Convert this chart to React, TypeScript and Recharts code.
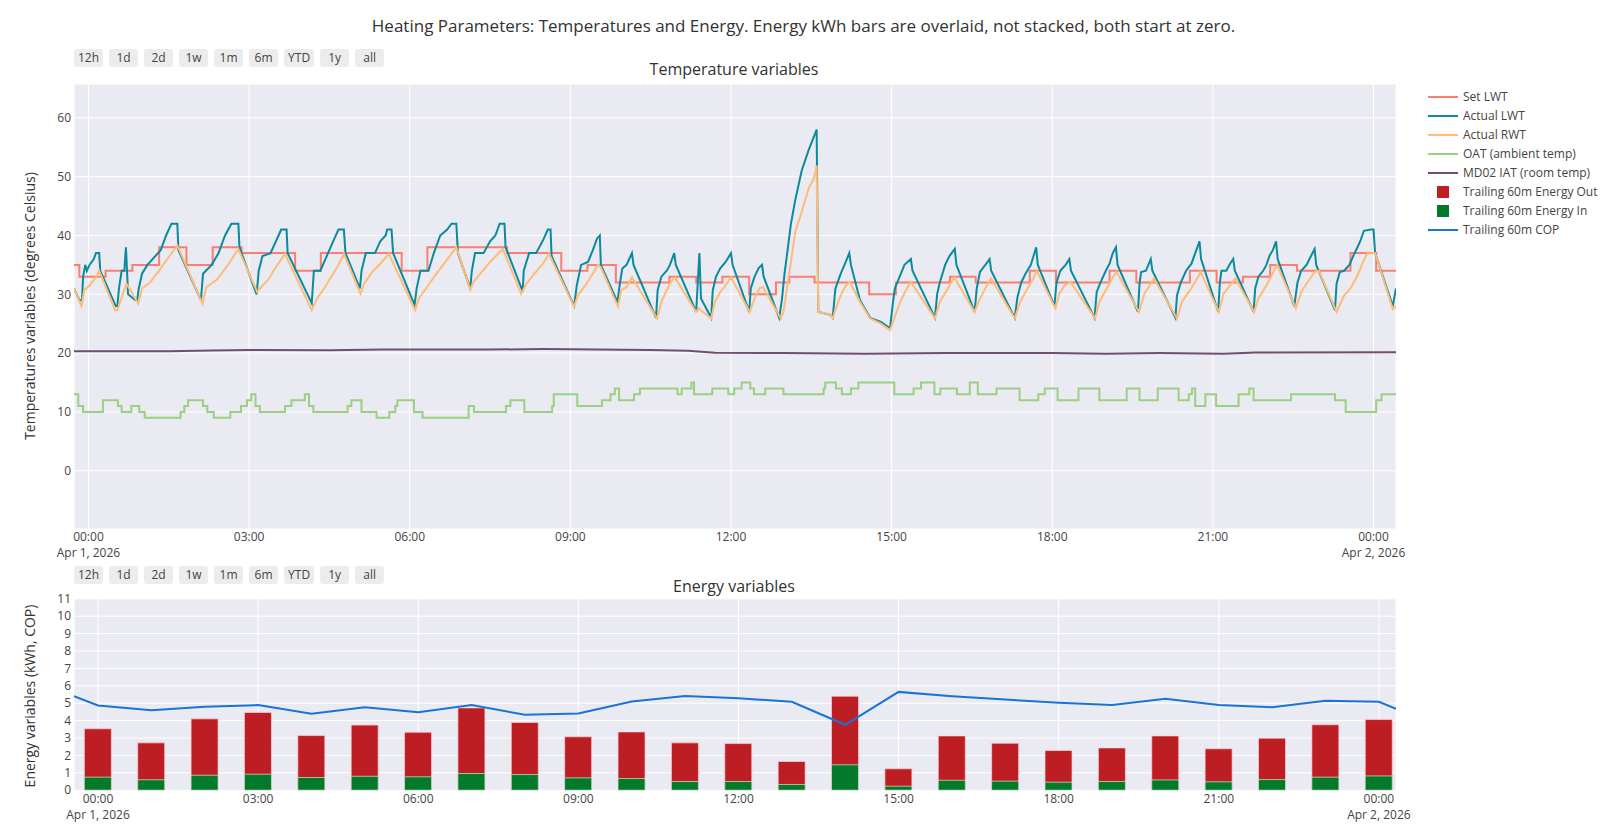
import React from 'react'
import {
    LineChart,
    ComposedChart,
    Line,
    Bar,
    XAxis,
    YAxis,
    CartesianGrid,
} from 'recharts'

type Pt = [number, number]

// time = hours since Apr 1, 2026 00:00
const setLwt: Pt[] = [
    [-0.27, 35], [-0.17, 33], [0.32, 34], [0.82, 35], [1.32, 38], [1.83, 35], [2.32, 38], [2.86, 37],
    [3.86, 34], [4.34, 37], [5.85, 34], [6.33, 38], [7.82, 37], [8.83, 34], [9.32, 35], [9.85, 32],
    [10.85, 33], [11.35, 32], [11.84, 33], [12.34, 30], [12.84, 32], [13.09, 33], [13.56, 32], [14.58, 30],
    [15.08, 32], [16.09, 33], [16.57, 32], [17.58, 34], [18.07, 32], [19.07, 34], [19.57, 32], [20.57, 34],
    [21.07, 32], [21.56, 33], [22.07, 35], [22.57, 34], [23.57, 37], [24.05, 34], [24.42, 34],
]

const actualLwt: Pt[] = [
    [-0.27, 31], [-0.17, 29], [-0.12, 29], [-0.1, 33], [-0.06, 35], [-0.03, 34], [0.02, 35], [0.1, 36],
    [0.14, 37], [0.2, 37], [0.22, 34], [0.51, 28], [0.54, 28], [0.57, 31], [0.62, 34], [0.67, 34],
    [0.7, 38], [0.74, 30], [0.88, 29], [0.91, 29], [0.94, 31], [1.0, 33.5], [1.1, 35], [1.35, 37.5],
    [1.45, 40], [1.55, 42], [1.66, 42], [1.68, 37.5], [2.1, 29], [2.14, 33.5], [2.3, 35], [2.43, 37],
    [2.55, 40], [2.67, 42], [2.8, 42], [2.82, 38], [3.14, 30], [3.18, 34], [3.25, 36.5], [3.4, 37],
    [3.55, 40], [3.6, 41], [3.7, 41], [3.72, 37], [4.17, 28.5], [4.21, 34], [4.33, 34], [4.45, 36.5],
    [4.57, 39], [4.67, 41], [4.77, 41], [4.8, 37], [5.07, 31], [5.1, 34], [5.18, 37], [5.35, 37],
    [5.45, 39], [5.55, 40], [5.58, 41], [5.66, 41], [5.69, 37], [6.09, 28.2], [6.13, 31], [6.2, 34],
    [6.35, 34], [6.45, 37], [6.57, 40], [6.7, 41], [6.78, 42], [6.87, 42], [6.9, 37], [7.13, 31],
    [7.16, 34], [7.22, 37], [7.38, 37], [7.5, 39], [7.6, 40], [7.68, 42], [7.77, 42], [7.79, 38],
    [8.11, 30.5], [8.13, 34], [8.23, 37], [8.36, 37], [8.48, 39], [8.58, 41], [8.63, 41], [8.65, 36.5],
    [9.07, 28], [9.12, 31.5], [9.2, 35], [9.33, 35.5], [9.42, 37.5], [9.5, 39.5], [9.55, 40], [9.57, 35],
    [9.88, 28.7], [9.92, 31.5], [9.97, 34.4], [10.05, 35], [10.1, 36], [10.15, 37], [10.18, 35], [10.6, 26],
    [10.63, 30.7], [10.7, 33], [10.8, 34], [10.86, 35], [10.94, 37], [10.97, 35], [11.35, 27], [11.41, 37],
    [11.44, 29.3], [11.63, 26], [11.66, 30.7], [11.72, 33], [11.8, 34.4], [11.9, 35.5], [12.0, 37], [12.03, 35],
    [12.34, 27], [12.37, 31], [12.44, 33], [12.52, 34.5], [12.58, 35], [12.61, 33], [12.9, 26], [12.95, 29],
    [13.0, 33.5], [13.05, 37], [13.12, 42], [13.2, 46], [13.32, 51], [13.45, 54.5], [13.6, 58], [13.63, 27],
    [13.86, 26.5], [13.9, 26], [13.95, 31], [14.05, 33.5], [14.12, 35], [14.21, 37], [14.24, 35], [14.41, 29],
    [14.6, 26], [14.8, 25.3], [14.97, 24.2], [15.03, 29], [15.06, 31], [15.15, 33], [15.24, 35], [15.36, 36],
    [15.39, 34], [15.81, 26], [15.85, 30], [15.9, 32], [16.0, 35], [16.08, 36.5], [16.18, 37.7], [16.21, 35],
    [16.55, 27], [16.59, 31], [16.65, 33.8], [16.75, 35], [16.83, 36], [16.86, 34], [17.3, 26], [17.35, 29.5],
    [17.42, 32], [17.5, 33.5], [17.6, 35], [17.7, 38], [17.73, 35], [18.04, 28], [18.08, 32], [18.15, 34],
    [18.25, 35], [18.32, 36], [18.35, 34], [18.79, 26], [18.83, 30.4], [18.9, 32], [19.0, 34], [19.07, 35.2],
    [19.13, 37], [19.19, 38], [19.22, 35], [19.6, 27], [19.63, 31.8], [19.66, 33.8], [19.75, 34], [19.84, 36],
    [19.87, 34], [20.3, 26], [20.33, 29.8], [20.4, 32], [20.5, 34], [20.6, 35.2], [20.67, 37], [20.75, 39],
    [20.78, 36], [21.1, 27], [21.13, 32], [21.16, 34], [21.25, 34], [21.32, 35.2], [21.38, 36], [21.41, 34],
    [21.76, 27], [21.79, 31], [21.85, 33], [21.94, 34], [22.0, 35], [22.06, 36.6], [22.12, 37.5], [22.18, 39],
    [22.21, 36], [22.52, 28], [22.58, 32], [22.65, 34], [22.75, 35], [22.82, 36.3], [22.9, 37.7], [22.93, 35],
    [23.28, 27.3], [23.31, 31.8], [23.37, 33.8], [23.45, 34], [23.55, 35], [23.62, 36.5], [23.7, 38], [23.76, 39.2],
    [23.82, 40.8], [23.95, 41], [24.0, 41], [24.03, 37], [24.36, 28], [24.42, 31],
]

const actualRwt: Pt[] = [
    [-0.27, 31], [-0.13, 28], [-0.08, 30.7], [0.02, 31.5], [0.15, 33], [0.2, 34], [0.5, 27.3], [0.54, 27.3],
    [0.71, 31.8], [0.93, 28.4], [1.0, 31], [1.15, 32], [1.35, 34.4], [1.52, 36.6], [1.66, 38.3], [2.13, 28.4],
    [2.2, 31.2], [2.4, 32.5], [2.6, 34.9], [2.8, 37.7], [3.15, 30.4], [3.25, 31.5], [3.35, 32.4], [3.5, 34.6],
    [3.67, 36.9], [4.17, 27.3], [4.27, 29.3], [4.4, 31], [4.55, 33.2], [4.68, 35.2], [4.77, 36.9], [5.08, 30.1],
    [5.15, 31.8], [5.3, 33.8], [5.45, 35.2], [5.61, 36.9], [6.1, 27.3], [6.17, 29.3], [6.32, 31.2], [6.5, 33.5],
    [6.69, 35.8], [6.87, 38], [7.13, 30.8], [7.19, 32.1], [7.32, 33.5], [7.5, 35.5], [7.74, 37.7], [8.08, 30.1],
    [8.18, 31.8], [8.33, 33.5], [8.49, 35.2], [8.6, 36.9], [9.07, 27.9], [9.14, 29.8], [9.3, 31.8], [9.42, 33.5],
    [9.52, 35], [9.57, 34.6], [9.89, 27.9], [9.95, 30.7], [10.05, 31.2], [10.15, 32.9], [10.62, 25.9], [10.7, 28.7],
    [10.8, 30.7], [10.88, 32.1], [10.95, 32.9], [11.35, 27], [11.4, 27.6], [11.63, 25.9], [11.7, 28.7], [11.8, 30.4],
    [11.9, 31.5], [12.0, 32.9], [12.35, 27], [12.45, 29.5], [12.53, 31], [12.6, 31.2], [12.93, 25.9], [12.98, 27],
    [13.1, 34.3], [13.2, 40.6], [13.32, 44], [13.45, 48], [13.55, 49.7], [13.6, 51.9], [13.63, 27], [13.86, 26.5],
    [13.9, 25.9], [14.0, 28.7], [14.08, 30.4], [14.15, 31.5], [14.22, 32.1], [14.41, 28.7], [14.6, 25.9], [14.8, 25],
    [14.97, 23.9], [15.06, 26.2], [15.16, 28.7], [15.25, 30.4], [15.36, 32.1], [15.81, 25.9], [15.9, 28.7], [16.03, 30.7],
    [16.17, 32.9], [16.55, 27], [16.62, 28.7], [16.75, 31], [16.86, 32.7], [17.3, 25.9], [17.4, 28.7], [17.52, 30.7],
    [17.65, 32.7], [17.71, 34], [18.06, 27.6], [18.13, 30.1], [18.23, 31.5], [18.34, 32.1], [18.8, 25.9], [18.88, 28.7],
    [19.0, 30.7], [19.12, 32.7], [19.2, 33.8], [19.62, 27], [19.72, 30.1], [19.8, 31.2], [19.9, 32.7], [20.33, 25.9],
    [20.42, 28.7], [20.55, 30.4], [20.67, 32.1], [20.77, 33.8], [21.11, 27], [21.2, 30.1], [21.32, 31.5], [21.42, 32.7],
    [21.77, 27], [21.85, 29.3], [22.0, 31.5], [22.13, 33.8], [22.2, 35], [22.55, 27.6], [22.65, 30.4], [22.77, 32.1],
    [22.9, 33.8], [22.98, 34], [23.31, 27], [23.45, 29.8], [23.57, 31], [23.7, 33.2], [23.82, 35.8], [23.88, 36.9],
    [24.0, 37], [24.03, 37], [24.36, 27.5], [24.42, 28],
]

const oat: Pt[] = [
    [-0.27, 13], [-0.19, 11], [-0.1, 10], [0.27, 12], [0.55, 11], [0.62, 10], [0.8, 11], [0.95, 10],
    [1.05, 9], [1.72, 10], [1.79, 11], [1.86, 12], [2.14, 11], [2.22, 10], [2.34, 9], [2.65, 10],
    [2.85, 11], [2.96, 12], [3.04, 13], [3.12, 11], [3.2, 10], [3.67, 11], [3.79, 12], [4.04, 13],
    [4.12, 11], [4.2, 10], [4.84, 11], [4.91, 12], [5.1, 10], [5.38, 9], [5.62, 10], [5.73, 11],
    [5.77, 12], [6.08, 10], [6.24, 9], [7.1, 11], [7.2, 10], [7.8, 11], [7.88, 12], [8.14, 10],
    [8.66, 11], [8.69, 13], [9.13, 11], [9.59, 12], [9.75, 13], [9.83, 14], [9.91, 12], [10.19, 13],
    [10.3, 14], [11.0, 13], [11.08, 14], [11.26, 15], [11.31, 13], [11.65, 14], [11.95, 13], [12.06, 14],
    [12.2, 15], [12.36, 14], [12.43, 13], [12.64, 14], [12.98, 13], [13.73, 14], [13.76, 15], [13.96, 14],
    [14.07, 13], [14.24, 14], [14.38, 15], [15.05, 13], [15.41, 14], [15.55, 15], [15.8, 13], [15.91, 14],
    [16.22, 13], [16.46, 15], [16.61, 13], [16.96, 14], [17.39, 12], [17.74, 13], [17.86, 14], [18.1, 12],
    [18.49, 14], [18.88, 12], [19.39, 14], [19.63, 12], [19.97, 14], [20.36, 12], [20.55, 13], [20.61, 14],
    [20.67, 11], [20.86, 13], [21.06, 11], [21.48, 13], [21.68, 14], [21.76, 12], [22.46, 13], [23.28, 12],
    [23.48, 10], [24.05, 12], [24.15, 13], [24.42, 13],
]

const iat: Pt[] = [
    [-0.27, 20.3], [1.5, 20.3], [2.3, 20.45], [3.0, 20.55], [4.5, 20.5], [5.5, 20.6], [7.5, 20.6],
    [8.5, 20.7], [9.5, 20.6], [10.5, 20.55], [11.2, 20.4], [11.7, 20.05], [13, 20.0], [14.5, 19.9],
    [16, 20.0], [18, 20.0], [19, 19.9], [20, 20.0], [21.2, 19.9], [21.8, 20.1], [24.42, 20.15],
]

const energyHours = [0, 1, 2, 3, 4, 5, 6, 7, 8, 9, 10, 11, 12, 13, 14, 15, 16, 17, 18, 19, 20, 21, 22, 23, 24]
const energyOut = [3.53, 2.72, 4.1, 4.47, 3.14, 3.74, 3.33, 4.73, 3.89, 3.07, 3.35, 2.72, 2.68, 1.65, 5.4, 1.23, 3.12, 2.7, 2.28, 2.43, 3.12, 2.38, 2.99, 3.76, 4.06]
const energyIn = [0.75, 0.6, 0.86, 0.92, 0.73, 0.8, 0.77, 0.96, 0.9, 0.71, 0.67, 0.5, 0.5, 0.33, 1.46, 0.23, 0.57, 0.52, 0.46, 0.5, 0.59, 0.48, 0.61, 0.75, 0.82]
const cop: Pt[] = [
    [-0.45, 5.4], [0, 4.87], [1, 4.6], [2, 4.8], [3, 4.89], [4, 4.39], [5, 4.77], [6, 4.48], [7, 4.9],
    [8, 4.33], [9, 4.41], [10, 5.1], [11, 5.42], [12, 5.29], [13, 5.08], [14, 3.76], [15, 5.65], [16, 5.4],
    [17, 5.21], [18, 5.02], [19, 4.89], [20, 5.25], [21, 4.89], [22, 4.77], [23, 5.14], [24, 5.08], [24.32, 4.68],
]

const timeTicks = [0, 3, 6, 9, 12, 15, 18, 21, 24]
const timeLabels = ['00:00', '03:00', '06:00', '09:00', '12:00', '15:00', '18:00', '21:00', '00:00']
const dayLabels = ['Apr 1, 2026', '', '', '', '', '', '', '', 'Apr 2, 2026']
const tempTicks = [0, 10, 20, 30, 40, 50, 60]
const energyTicks = [0, 1, 2, 3, 4, 5, 6, 7, 8, 9, 10, 11]
const rangeButtons = ['12h', '1d', '2d', '1w', '1m', '6m', 'YTD', '1y', 'all']

const TEXT = 'rgb(50,50,50)'
const TICK = '#444'
const PLOT_BG = '#EAEAF2'

const TEMP_SERIES = [
    { key: 'setLwt', name: 'Set LWT', color: '#fa7f72', type: 'stepAfter', pts: setLwt },
    { key: 'lwt', name: 'Actual LWT', color: '#0a8a9e', type: 'linear', pts: actualLwt },
    { key: 'rwt', name: 'Actual RWT', color: '#ffbb78', type: 'linear', pts: actualRwt },
    { key: 'oat', name: 'OAT (ambient temp)', color: '#9ccf82', type: 'stepAfter', pts: oat },
    { key: 'iat', name: 'MD02 IAT (room temp)', color: '#6f4e6f', type: 'linear', pts: iat },
]

const LEGEND = [
    ...TEMP_SERIES.map((s) => ({ name: s.name, color: s.color, square: false })),
    { name: 'Trailing 60m Energy Out', color: '#bd1e24', square: true },
    { name: 'Trailing 60m Energy In', color: '#037a2b', square: true },
    { name: 'Trailing 60m COP', color: '#1874d8', square: false },
]

function mergeRows(series: Record<string, Pt[]>) {
    const rows = new Map<number, any>()
    for (const [key, pts] of Object.entries(series)) {
        for (const [t, v] of pts) {
            const row = rows.get(t) ?? { t }
            row[key] = v
            rows.set(t, row)
        }
    }
    return [...rows.values()].sort((a, b) => a.t - b.t)
}

const tempRows = mergeRows(Object.fromEntries(TEMP_SERIES.map((s) => [s.key, s.pts])))
const energyRows = mergeRows({
    hour: energyHours.map((h) => [h, h] as Pt),
    out: energyHours.map((h, i) => [h, energyOut[i]] as Pt),
    in: energyHours.map((h, i) => [h, energyIn[i]] as Pt),
    cop,
})

function TimeTick({ x, y, payload }: any) {
    const i = timeTicks.indexOf(payload.value)
    return (
        <text x={x} y={y} textAnchor="middle" fill={TICK} fontSize={12}>
            <tspan x={x} dy="0.71em">{timeLabels[i]}</tspan>
            {dayLabels[i] ? <tspan x={x} dy={16}>{dayLabels[i]}</tspan> : null}
        </text>
    )
}

function RangeButtons({ top }: { top: number }) {
    return (
        <div style={{ position: 'absolute', left: 74, top, display: 'flex', gap: 6 }}>
            {rangeButtons.map((b) => (
                <div key={b} style={{ minWidth: 29, height: 18, padding: '0 4px', boxSizing: 'border-box', background: '#ececec', borderRadius: 3, fontSize: 12, lineHeight: '18px', textAlign: 'center', color: TICK }}>
                    {b}
                </div>
            ))}
        </div>
    )
}

function AxisTitle({ text, cy }: { text: string; cy: number }) {
    return (
        <div style={{ position: 'absolute', left: 29, top: cy, transform: 'translate(-50%, -50%) rotate(-90deg)', whiteSpace: 'nowrap', fontSize: 14, color: TEXT }}>
            {text}
        </div>
    )
}

function LegendBox() {
    return (
        <div style={{ position: 'absolute', left: 1428, top: 87 }}>
            {LEGEND.map((l) => (
                <div key={l.name} style={{ display: 'flex', alignItems: 'center', height: 19 }}>
                    <div style={{ width: 30, display: 'flex', justifyContent: 'center' }}>
                        {l.square
                            ? <div style={{ width: 12, height: 12, background: l.color }} />
                            : <div style={{ width: 30, height: 2, background: l.color }} />}
                    </div>
                    <span style={{ marginLeft: 5, fontSize: 12, color: TICK, whiteSpace: 'nowrap' }}>{l.name}</span>
                </div>
            ))}
        </div>
    )
}

export default function App() {
    return (
        <div style={{ position: 'absolute', left: 0, top: 0, width: 1607, height: 840, background: '#fff', fontFamily: '"Open Sans", sans-serif', overflow: 'hidden' }}>
            <div style={{ position: 'absolute', left: 0, top: 15, width: 1607, textAlign: 'center', fontSize: 17, lineHeight: '21px', color: TEXT }}>
                Heating Parameters: Temperatures and Energy. Energy kWh bars are overlaid, not stacked, both start at zero.
            </div>

            <RangeButtons top={49} />
            <div style={{ position: 'absolute', left: 434, width: 600, top: 59, textAlign: 'center', fontSize: 16, lineHeight: '21px', color: TEXT }}>
                Temperature variables
            </div>
            <AxisTitle text="Temperatures variables (degrees Celsius)" cy={306} />

            <div style={{ position: 'absolute', left: 0, top: 0 }}>
                <LineChart width={1607} height={570} data={tempRows} margin={{ top: 84, right: 211, bottom: 1, left: 34 }}>
                    <CartesianGrid fill={PLOT_BG} fillOpacity={1} stroke="#fff" strokeWidth={1} />
                    <XAxis type="number" dataKey="t" domain={[-0.27, 24.42]} allowDataOverflow ticks={timeTicks} interval={0}
                        tick={<TimeTick />} tickLine={false} axisLine={false} tickSize={0} tickMargin={3} height={40} />
                    <YAxis type="number" domain={[-9.9, 65.75]} allowDataOverflow ticks={tempTicks} interval={0}
                        tick={{ fontSize: 12, fill: TICK }} tickLine={false} axisLine={false} tickSize={0} tickMargin={3} width={40} />
                    {TEMP_SERIES.map((s) => (
                        <Line key={s.key} dataKey={s.key} name={s.name} type={s.type as any} stroke={s.color} strokeWidth={2}
                            dot={false} connectNulls isAnimationActive={false} />
                    ))}
                </LineChart>
            </div>

            <RangeButtons top={566} />
            <div style={{ position: 'absolute', left: 434, width: 600, top: 576, textAlign: 'center', fontSize: 16, lineHeight: '21px', color: TEXT }}>
                Energy variables
            </div>
            <AxisTitle text="Energy variables (kWh, COP)" cy={695.5} />

            <div style={{ position: 'absolute', left: 0, top: 562 }}>
                <ComposedChart width={1607} height={278} data={energyRows} barGap={-27} margin={{ top: 36.8, right: 211, bottom: 9.8, left: 34 }}>
                    <CartesianGrid fill={PLOT_BG} fillOpacity={1} stroke="#fff" strokeWidth={1} />
                    <XAxis type="number" dataKey="t" domain={[-0.45, 24.32]} allowDataOverflow ticks={timeTicks} interval={0}
                        tick={<TimeTick />} tickLine={false} axisLine={false} tickSize={0} tickMargin={4} height={40} />
                    <XAxis xAxisId="bars" type="number" dataKey="hour" domain={[-0.45, 24.32]} allowDataOverflow hide />
                    <YAxis type="number" domain={[0, 11]} allowDataOverflow ticks={energyTicks} interval={0}
                        tick={{ fontSize: 12, fill: TICK }} tickLine={false} axisLine={false} tickSize={0} tickMargin={3} width={40} />
                    <Bar xAxisId="bars" dataKey="out" name="Trailing 60m Energy Out" fill="#bd1e24" stroke="rgba(255,210,215,0.7)" strokeWidth={1} barSize={27} isAnimationActive={false} />
                    <Bar xAxisId="bars" dataKey="in" name="Trailing 60m Energy In" fill="#037a2b" stroke="rgba(210,235,215,0.7)" strokeWidth={1} barSize={27} isAnimationActive={false} />
                    <Line dataKey="cop" name="Trailing 60m COP" type="linear" stroke="#1874d8" strokeWidth={2} dot={false} connectNulls isAnimationActive={false} />
                </ComposedChart>
            </div>

            <LegendBox />
        </div>
    )
}
